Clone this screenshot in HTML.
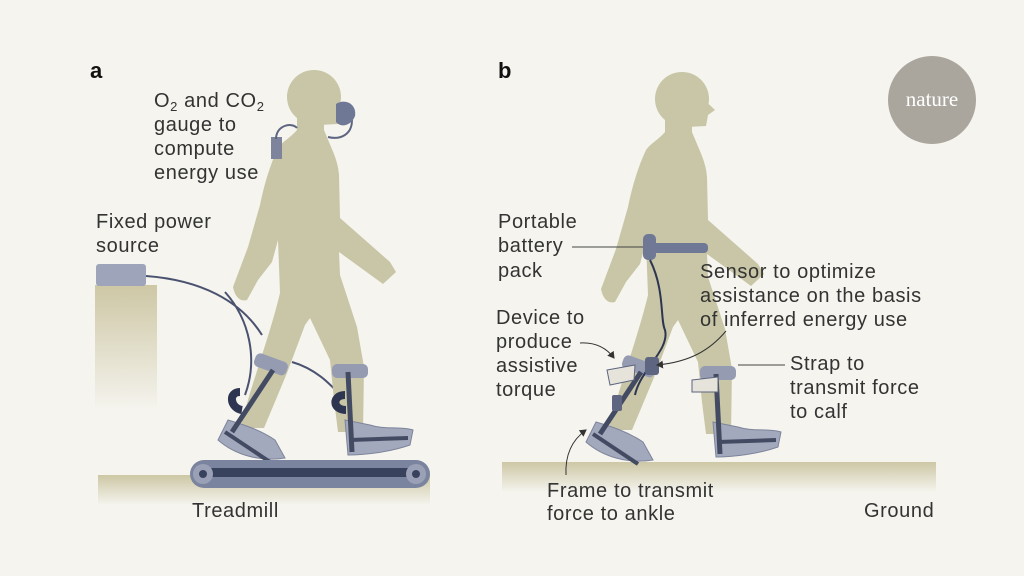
<!DOCTYPE html>
<html><head><meta charset="utf-8"><style>
html,body{margin:0;padding:0;background:#f5f4ee;}
svg{display:block}
text{font-family:"Liberation Sans",sans-serif;font-size:20px;letter-spacing:0.6px;fill:#333;}
</style></head><body>
<svg width="1024" height="576" viewBox="0 0 1024 576" xmlns="http://www.w3.org/2000/svg">
<defs>
<linearGradient id="gv" x1="0" y1="0" x2="0" y2="1"><stop offset="0" stop-color="#cdc7a5"/><stop offset="1" stop-color="#f5f4ee"/></linearGradient>
<marker id="ar" markerWidth="8" markerHeight="8" refX="6" refY="4" orient="auto"><path d="M0,0 L7,4 L0,8 Z" fill="#333"/></marker>
<g id="body">
 <circle cx="314" cy="97" r="27" fill="#c8c6a6"/>
 <path d="M330,92 L347,108 L340,113 L338,124 L300,126 Z" fill="#c8c6a6"/>
 <path d="M297,118 L324,118 L324,130 C332,150 338,160 339,175 L340,218 L390,262 L396,272 L383,284 L339,252 L340,275 L357,327 L364,367 L363,432 L338,432 L334,400 L330,360 L310,318 L305,325 L287,373 L264,428 L240,428 L250,393 L262,355 C270,330 276,310 280,293 L278,240 L272,262 L258,280 L247,300 C240,302 235,297 233,287 L248,247 L260,205 C264,185 270,165 278,148 C282,142 290,138 297,130 Z" fill="#c8c6a6"/>
 <path d="M228,420 C245,425 260,430 275,440 L285,458 C260,462 235,455 218,440 Z" fill="#a3a9bc" stroke="#7d849b" stroke-width="1"/>
 <path d="M345,420 L370,425 C385,430 400,426 413,430 L410,445 C390,452 365,455 348,455 Z" fill="#a3a9bc" stroke="#7d849b" stroke-width="1"/>
 <rect x="254" y="357" width="34" height="14" rx="5" fill="#959cb2" transform="rotate(20 270 364)"/>
 <rect x="332" y="364" width="36" height="14" rx="5" fill="#959cb2"/>
 <line x1="273" y1="370" x2="232" y2="432" stroke="#434b63" stroke-width="5"/>
 <line x1="348" y1="372" x2="352" y2="452" stroke="#434b63" stroke-width="5"/>
 <path d="M225,432 L270,462 M350,440 L408,438" stroke="#434b63" stroke-width="4" fill="none"/>
</g>
</defs>
<!-- panel a -->
<rect x="95" y="285" width="62" height="125" fill="url(#gv)"/>
<rect x="96" y="264" width="50" height="22" rx="3" fill="#9ea5bb"/>
<rect x="98" y="475" width="332" height="30" fill="url(#gv)"/>
<path d="M146,276 C200,280 240,300 262,335 M225,292 C250,320 258,360 245,395 M292,362 C320,370 335,390 345,400" stroke="#4a5270" stroke-width="2" fill="none"/>
<use href="#body"/>
<path d="M240,392 C228,392 230,408 242,410" stroke="#2d3550" stroke-width="8" fill="none"/>
<path d="M345,395 C332,395 332,410 346,410" stroke="#2d3550" stroke-width="8" fill="none"/>
<rect x="271" y="137" width="11" height="22" fill="#7d849b"/>
<path d="M276,139 C276,125 292,122 297,128 M328,137 C340,140 352,135 352,120" stroke="#5d6580" stroke-width="2" fill="none"/>
<path d="M336,104 C345,98 357,104 355,116 C351,126 341,128 336,122 Z" fill="#6f7895"/>
<rect x="190" y="460" width="240" height="28" rx="14" fill="#7b849e"/>
<rect x="205" y="468" width="210" height="9" fill="#39425c"/>
<circle cx="203" cy="474" r="10" fill="#9aa1b7"/><circle cx="203" cy="474" r="4" fill="#39425c"/>
<circle cx="416" cy="474" r="10" fill="#9aa1b7"/><circle cx="416" cy="474" r="4" fill="#39425c"/>
<text x="90" y="78" style="font-weight:bold;font-size:22px;fill:#111">a</text>
<text x="154" y="107">O<tspan font-size="13" dy="4">2</tspan><tspan dy="-4"> and CO</tspan><tspan font-size="13" dy="4">2</tspan></text>
<text x="154" y="131">gauge to</text>
<text x="154" y="155">compute</text>
<text x="154" y="179">energy use</text>
<text x="96" y="228">Fixed power</text>
<text x="96" y="252">source</text>
<text x="192" y="517">Treadmill</text>
<!-- panel b -->
<rect x="502" y="462" width="434" height="30" fill="url(#gv)"/>
<use href="#body" transform="translate(368,2)"/>
<rect x="650" y="243" width="58" height="10" rx="4" fill="#6f7895"/>
<rect x="643" y="234" width="13" height="26" rx="5" fill="#6f7895"/>
<path d="M650,260 C665,290 660,320 665,330 C670,350 640,370 635,395" stroke="#2d3550" stroke-width="2" fill="none"/>
<rect x="645" y="357" width="14" height="18" rx="3" fill="#5d6580"/>
<path d="M607,370 L635,365 L634,380 L610,385 Z" fill="#e6e4da" stroke="#5d6580"/>
<path d="M692,380 L718,377 L718,392 L692,392 Z" fill="#e6e4da" stroke="#5d6580"/>
<rect x="612" y="395" width="10" height="16" rx="2" fill="#5d6580"/>
<text x="498" y="78" style="font-weight:bold;font-size:22px;fill:#111">b</text>
<circle cx="932" cy="100" r="44" fill="#aaa69d"/>
<text x="932" y="106" text-anchor="middle" style="font-family:'Liberation Serif',serif;font-size:21px;letter-spacing:0;fill:#fff">nature</text>
<text x="498" y="228">Portable</text>
<text x="498" y="252">battery</text>
<text x="498" y="277">pack</text>
<line x1="572" y1="247" x2="643" y2="247" stroke="#444" stroke-width="1"/>
<text x="700" y="278">Sensor to optimize</text>
<text x="700" y="302">assistance on the basis</text>
<text x="700" y="326">of inferred energy use</text>
<path d="M726,331 C710,350 690,362 657,365" stroke="#333" stroke-width="1" fill="none" marker-end="url(#ar)"/>
<text x="496" y="324">Device to</text>
<text x="496" y="348">produce</text>
<text x="496" y="372">assistive</text>
<text x="496" y="396">torque</text>
<path d="M580,343 C598,342 608,350 614,358" stroke="#333" stroke-width="1" fill="none" marker-end="url(#ar)"/>
<text x="790" y="370">Strap to</text>
<text x="790" y="394">transmit force</text>
<text x="790" y="418">to calf</text>
<line x1="785" y1="365" x2="738" y2="365" stroke="#444" stroke-width="1"/>
<text x="547" y="497">Frame to transmit</text>
<text x="547" y="520">force to ankle</text>
<path d="M566,475 C565,455 572,440 586,430" stroke="#333" stroke-width="1" fill="none" marker-end="url(#ar)"/>
<text x="864" y="517">Ground</text>
</svg>
</body></html>
